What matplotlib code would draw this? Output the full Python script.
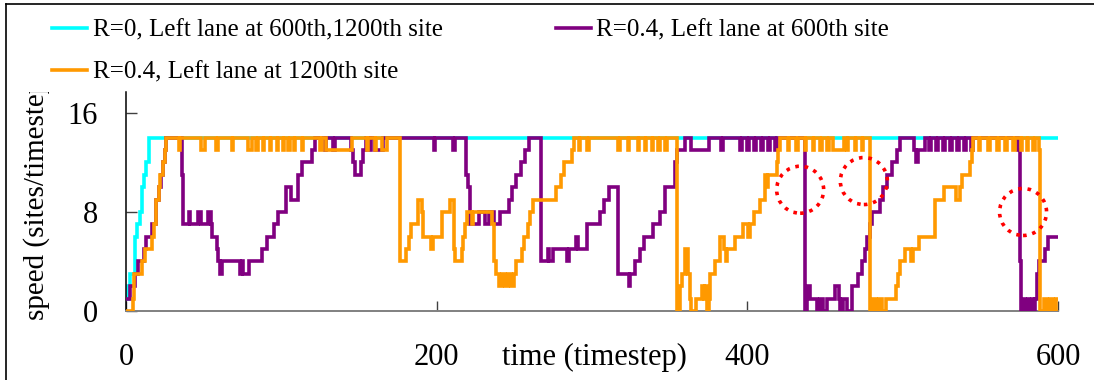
import matplotlib
matplotlib.use("Agg")
import matplotlib.pyplot as plt
from matplotlib.patches import Ellipse
from matplotlib.lines import Line2D
from matplotlib.transforms import Bbox, TransformedBbox

# ---- speed traces: (timestep, speed) change points; each speed holds until the next one ----
cyan_t = [0, 1, 2.5, 4.5, 5.5, 7, 9, 10, 11.5, 13, 14.5, 600]
cyan_v = [1, 2, 3, 3, 6, 7, 8, 10, 11, 12, 14, 14]

purple_t = [0, 1.5, 2.5, 5, 6, 7.5, 10.5, 11.5, 13, 15.5, 16.5, 18.5, 19.5, 21.5, 22.5, 24, 25, 25.5,
            35, 36, 37, 39.5, 40.5, 41, 45.5, 46.5, 48, 51.5, 52.5, 53.5, 54.5, 55.5, 57.5, 58.5,
            59.5, 60.5, 61.5, 72.5, 73.5, 74.5, 75, 78, 79, 86.5, 87.5, 89.5, 90.5, 94, 95, 97, 98,
            102, 103, 105.5, 106.5, 109.5, 110.5, 112, 113, 119, 120, 121.5,
            127, 128, 129, 132.5, 133.5, 134.5, 144, 145, 146, 147.5, 150, 151.5, 152.5, 154.5,
            156, 157, 158, 159.5, 160.5, 164, 165.5, 197, 198, 199, 209.5, 210.5, 211.5, 218, 219,
            220, 221.5, 226, 227, 230, 231, 233, 234, 236, 237, 239.5, 240.5, 245, 246.5, 248.5,
            251, 254, 257, 259.5, 266, 267, 270.5, 271.5, 272.5, 274, 275, 283, 284, 285, 289, 290,
            291, 295.5, 296.5, 304, 305, 307, 308, 310, 311, 315, 316.5, 322.5, 323.5, 324.5, 326.5,
            327.5, 330, 331, 332.5, 333.5, 338, 339, 342, 343.5, 346, 347, 352.5, 353.5, 354.5, 359,
            360, 363, 364, 374.5, 375.5, 382, 383, 384.5, 394, 395, 396.5,
            400, 401, 404.5, 405.5, 409, 410, 413.5, 414.5, 418, 419,
            435.5, 437.2, 438.3, 440.4, 442.6, 444.7, 446.9, 449, 451.2, 454.4, 456.5, 458.7, 459.7,
            461.9, 464, 466.2, 467.2, 469.4, 471.5, 473.7, 475.8, 476.9, 479, 480.1, 483.3, 485.5,
            487.6, 489.8, 493, 496.2, 498.5, 506, 507, 508.5, 510, 513, 514.5,
            517, 518, 521.5, 522.5, 526, 527, 530.5, 531.5, 535, 536, 539.5, 540.5, 544, 545,
            573.5, 574.5, 575.5, 576.5, 578, 579, 580.5, 581.5, 583, 584, 585, 586.5, 587.5,
            590, 591.5, 593.5, 600]
purple_v = [1, 1, 2, 2, 3, 4, 4, 5, 6, 6, 7, 7, 9, 10, 11, 12, 13, 14,
            14, 11, 7, 7, 8, 7, 7, 8, 7, 7, 8, 8, 7, 6, 6, 5,
            4, 3, 4, 4, 3, 4, 3, 3, 4, 4, 5, 5, 6, 6, 7, 7, 8,
            8, 10, 10, 9, 9, 11, 11, 12, 12, 13, 14,
            14, 13, 14, 14, 13, 14, 14, 13, 12, 11, 11, 12, 13, 14,
            14, 13, 14, 14, 13, 13, 14, 14, 13, 14, 14, 13, 14, 14, 11,
            10, 7, 7, 8, 8, 7, 7, 8, 8, 7, 7, 8, 8, 9, 10,
            11, 12, 13, 14, 14, 4, 4, 5, 4, 4, 5, 5, 4, 5, 5, 6,
            5, 5, 7, 7, 8, 8, 9, 9, 10, 10, 3, 3, 2, 3, 3,
            4, 4, 5, 5, 6, 6, 7, 7, 8, 8, 10, 10, 12, 13, 13,
            14, 14, 13, 13, 14, 14, 13, 14, 14, 13, 14,
            13, 14, 13, 14, 13, 14, 13, 14, 13, 14,
            14, 0, 2, 1, 1, 0, 1, 0, 1, 1, 2, 1, 0,
            1, 0, 0, 2, 2, 3, 4, 5, 6, 7, 8, 8, 9,
            10, 11, 12, 13, 14, 14, 13, 12, 13, 13, 14,
            13, 14, 13, 14, 13, 14, 13, 14, 13, 14, 13, 14, 13, 14,
            14, 13, 4, 0, 1, 0, 1, 0, 1, 0, 1, 3, 4,
            4, 5, 6, 6]

orange_t = [0, 3, 4.5, 5, 9, 10, 12, 15.5, 16.5, 18, 19.5, 21, 22, 23.5, 25, 26,
            33, 34, 35, 47, 48, 50, 51, 57, 58, 59, 67, 68, 69, 77.5, 78.5, 80, 81, 83, 84, 85,
            87, 88, 89, 91.5, 92.5, 93.5, 96, 97, 98, 100, 101, 102, 103.5, 104.5, 105.5, 107, 108,
            109, 112, 113, 114, 124, 125, 126, 127.5, 128.5, 144, 145.5, 154, 155, 156, 159, 160,
            161, 164, 165, 167, 168, 175, 176.5, 179.5, 180.5, 182, 183.5, 186, 188, 189.5, 190.5,
            191.5, 195.5, 196.5, 197.5, 202, 203.5, 207.5, 208.5, 210, 211, 212, 215, 216, 217, 218,
            219.5, 221.5, 222.5, 223.5, 234.5, 235.5, 237, 238, 240, 242, 244, 246, 248, 250,
            251, 253.5, 255, 256.5, 258.5, 260, 262, 275.5, 277, 280, 282, 285,
            287, 288.5, 290.5, 291.5, 292.5, 296, 297, 298, 316, 317, 318, 322, 323, 324, 328.5,
            329.5, 330.5, 333, 334, 335, 337.5, 338.5, 339.5, 341.5, 342.5, 343.5, 346, 347, 348,
            352.5, 354.5, 355.5, 356.5, 358, 360, 361, 362, 363, 364, 366, 367, 370, 371, 372, 373,
            374, 375, 376, 378, 379.5, 381, 382.5, 384, 385, 386, 387, 391, 392, 396, 397, 399.5,
            400.5, 401.5, 403.5, 404.5, 407, 408, 410.5, 411.5, 412.5, 413.5, 418, 419, 420, 421,
            425, 426, 427, 430.5, 431.5, 432.5, 436, 437, 438, 441, 442, 443, 446, 447, 448, 450.5,
            451.5, 452.5, 454, 455, 461, 462, 463, 464, 465, 468, 469, 470, 472.5, 473.5, 474.5,
            477.5, 479, 481, 483, 485, 487, 489, 495, 496, 497, 498, 500.5,
            501.5, 504.5, 505.5, 506.5, 509.5, 510.5, 519.5, 520.5, 525.5, 526.5, 533.5, 534.5,
            536, 537, 538, 542.5, 543.5, 544.5, 545.5, 548, 549, 550, 554, 555, 556, 560, 561, 562,
            565, 566, 567, 570, 571, 572, 575, 576, 577, 579, 580, 581, 583, 584, 585, 586.5, 587.5,
            588.5, 591, 593, 595, 597, 599, 600]
orange_v = [0, 0, 1, 3, 3, 4, 5, 5, 6, 7, 9, 10, 11, 12, 13, 14,
            14, 13, 14, 14, 13, 13, 14, 14, 13, 14, 14, 13, 14, 14, 13, 13, 14, 14, 13, 14,
            14, 13, 14, 14, 13, 14, 14, 13, 14, 14, 13, 14, 14, 13, 14, 14, 13,
            14, 14, 13, 14, 14, 13, 14, 14, 13, 13, 14, 14, 13, 14, 14, 13,
            14, 14, 13, 13, 14, 14, 4, 4, 5, 6, 7, 7, 9, 9, 8,
            6, 6, 5, 6, 6, 8, 8, 9, 9, 5, 4, 4, 5, 6, 7,
            8, 8, 7, 8, 8, 7, 4, 3, 2, 3, 2, 3, 2, 3,
            4, 4, 5, 6, 7, 8, 9, 9, 10, 11, 12, 12,
            13, 14, 14, 13, 14, 14, 13, 14, 14, 13, 14, 14, 13, 14, 14,
            13, 14, 14, 13, 14, 14, 13, 14, 14, 13, 14, 14, 13, 14,
            14, 0, 0, 2, 3, 5, 5, 3, 1, 0, 0, 1, 1, 2, 1, 2,
            0, 1, 3, 3, 4, 4, 6, 6, 5, 4, 5, 5, 6, 6, 7, 7,
            6, 7, 7, 8, 8, 9, 9, 11, 10, 11, 11, 12, 13, 14,
            14, 13, 14, 14, 13, 14, 14, 13, 14, 14, 13, 14, 14, 13, 14, 14,
            13, 14, 14, 13, 13, 14, 14, 13, 14, 14, 13, 14, 14, 13, 14,
            14, 0, 1, 0, 1, 0, 1, 1, 2, 3, 4, 4,
            5, 5, 4, 5, 5, 6, 6, 9, 9, 10, 10, 9,
            9, 10, 11, 11, 12, 13, 14, 14, 13, 14, 14, 13, 14, 14, 13, 14,
            14, 13, 14, 14, 13, 14, 14, 13, 14, 14, 13, 14, 14, 13, 14, 14, 13,
            0, 1, 0, 1, 0, 1, 1]

series_labels = ["R=0, Left lane at 600th,1200th site",
                 "R=0.4, Left lane at 600th site",
                 "R=0.4, Left lane at 1200th site"]

# highlighted moments (timestep, speed) marked with dotted rings
ring_t = [434, 475, 577.5]
ring_v = [9.8, 10.5, 8.0]

x_ticks = [0, 200, 400, 600]
y_ticks = [0, 8, 16]

CYAN, PURPLE, ORANGE = "#00FFFF", "#800080", "#FF9900"
W, H, DPI = 1094, 380, 100

plt.rcParams["font.family"] = ["Liberation Serif", "DejaVu Serif"]

fig = plt.figure(figsize=(W / DPI, H / DPI), dpi=DPI)
ax = fig.add_axes([126 / W, (H - 311) / H, (1058 - 126) / W, (311 - 91.7) / H])

lw = 2.6
style = dict(lw=lw, drawstyle="steps-post", solid_joinstyle="miter")
l_cyan, = ax.plot(cyan_t, cyan_v, color=CYAN, zorder=2, **style)
l_purple, = ax.plot(purple_t, purple_v, color=PURPLE, zorder=3, **style)
l_orange, = ax.plot(orange_t, orange_v, color=ORANGE, zorder=4, **style)

# dotted rings, ~47 px across
ring_px = 47
x_scale = ax.get_position().width * W / 600.0
y_scale = ax.get_position().height * H / 17.72
for t, v in zip(ring_t, ring_v):
    ax.add_patch(Ellipse((t, v), ring_px / x_scale, ring_px / y_scale, fill=False,
                         edgecolor="#FF0000", lw=2.6, linestyle=(0, (1, 1.6)),
                         capstyle="butt", zorder=5, clip_on=False))

ax.set_xlim(0, 600)
ax.set_ylim(0, 17.72)
ax.set_xticks(x_ticks)
ax.set_yticks(y_ticks)
ax.set_xticklabels([str(v) for v in x_ticks])
ax.set_yticklabels([str(v) for v in y_ticks])
ax.tick_params(axis="x", direction="in", length=7.2, width=1.0, color="#404040",
               labelsize=22, pad=23)
ax.tick_params(axis="y", direction="in", length=8, width=1.0, color="#404040",
               labelsize=22, pad=20)

for side in ("top", "right"):
    ax.spines[side].set_visible(False)
ax.spines["left"].set_color("#000000")
ax.spines["left"].set_linewidth(1.1)
ax.spines["bottom"].set_color("#808080")
ax.spines["bottom"].set_linewidth(1.4)

# axis titles
fig.text(594 / W, (H - 357) / H, "time (timestep)", ha="center", va="center", fontsize=22)
ylab = fig.text(37 / W, (H - 320) / H, "speed (sites/timestep)", rotation=90,
                ha="center", va="bottom", fontsize=21)
clip = TransformedBbox(Bbox([[0, 0], [1, (H - 91.7) / H]]), fig.transFigure)
ylab.set_clip_box(clip)
ylab.set_clip_on(True)

# legend above the plot
fig.legend([l_cyan, l_orange, l_purple], [series_labels[0], series_labels[2], series_labels[1]],
           loc="upper left", bbox_to_anchor=(52 / W, (H - 19) / H), ncol=2, frameon=False,
           fontsize=18, handlelength=1.4, handletextpad=0.24, columnspacing=4.5,
           labelspacing=0.79, borderpad=0, borderaxespad=0)

# outer frame
fig.add_artist(Line2D([6 / W, 1], [(H - 4) / H, (H - 4) / H], transform=fig.transFigure,
                      color="black", lw=1.2))
fig.add_artist(Line2D([6 / W, 6 / W], [0, (H - 4) / H], transform=fig.transFigure,
                      color="black", lw=1.2))

fig.savefig("out.png", dpi=DPI)
